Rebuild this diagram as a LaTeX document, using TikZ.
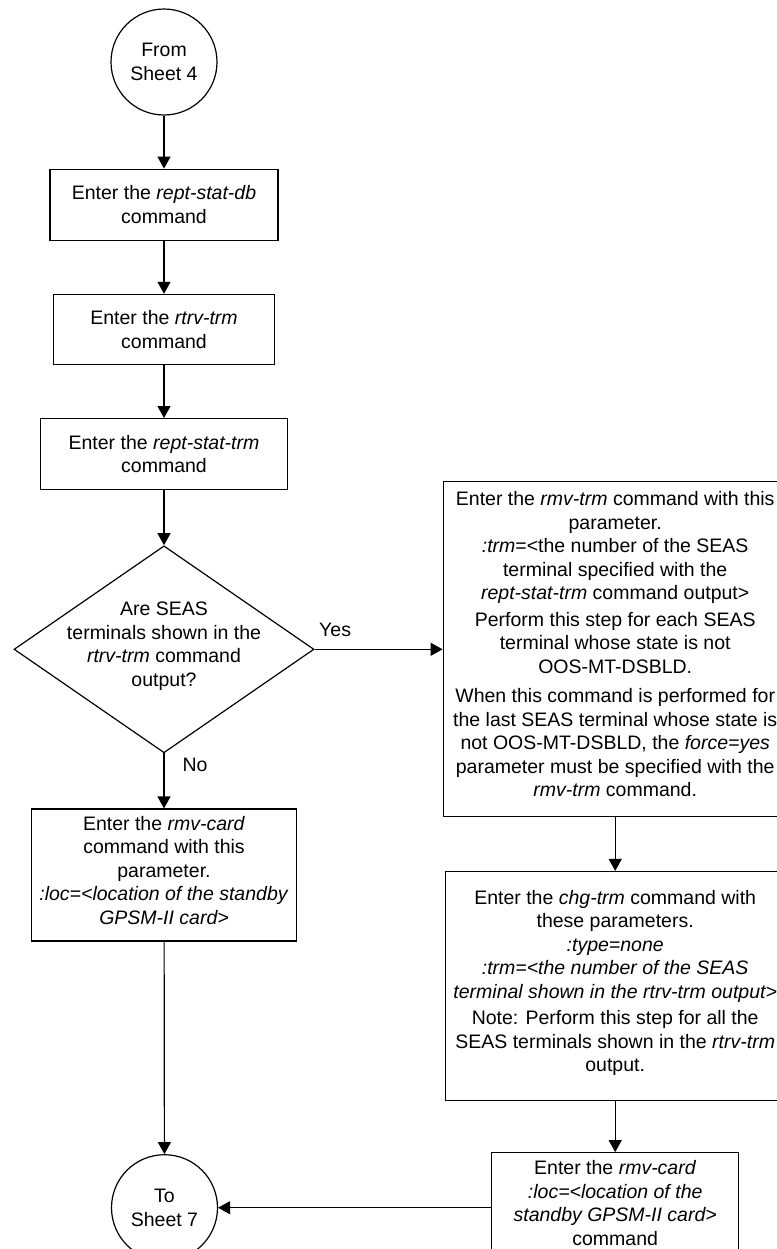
\documentclass[tikz,border=0pt]{standalone}
\usepackage{fontspec}
\setmainfont{Liberation Sans}
\usetikzlibrary{positioning, arrows.meta, shapes.geometric}
\newcommand{\chartfont}{\fontsize{9.75}{11.75}\selectfont}
\tikzset{
  stepbox/.style={
    draw,
    line width=0.6pt,
    align=center,
    inner sep=2pt,
    font=\chartfont
  },
  tallbox/.style={stepbox, text depth=5pt},
  termcirc/.style={draw, circle, line width=0.6pt, minimum size=53pt, inner sep=0pt, align=center, font=\chartfont},
  decision/.style={draw, diamond, aspect=1.45, line width=0.6pt, inner sep=-12pt, minimum width=150pt, minimum height=103.5pt, text depth=5pt, align=center, font=\chartfont},
  arr/.style={-{Triangle[length=6pt, width=6.5pt]}, line width=0.6pt},
  lbl/.style={font=\chartfont, inner sep=2pt}
}
\begin{document}
\begin{tikzpicture}

  \useasboundingbox (0,0) rectangle (388.5pt,-624.5pt);
  \clip (0,0) rectangle (388.5pt,-624.5pt);

  % Left column, top to bottom
  \node[termcirc] (from4) at (82pt,-31pt) {From\\Sheet 4};
  \node[stepbox, below=26.5pt of from4, minimum width=114pt, minimum height=35.5pt] (statdb) {%
    Enter the \textit{rept-stat-db}\\command};
  \node[stepbox, below=26.5pt of statdb, minimum width=110.5pt, minimum height=35pt] (rtrv) {%
    Enter the \textit{rtrv-trm}\\command};
  \node[stepbox, below=26.5pt of rtrv, minimum width=123.5pt, minimum height=35.5pt] (stattrm) {%
    Enter the \textit{rept-stat-trm}\\command};
  \node[decision, below=27.5pt of stattrm] (seas) {%
    Are SEAS\\terminals shown in the\\\textit{rtrv-trm} command\\output?};
  \node[tallbox, below=27.5pt of seas, minimum width=132.5pt, minimum height=66pt] (rmvcard) {%
    Enter the \textit{rmv-card}\\command with this\\parameter.\\
    \textit{:loc=<location of the standby}\\\textit{GPSM-II card>}};

  % Right column
  \node[tallbox, right=64pt of seas, minimum width=172pt, minimum height=167.5pt] (rmvtrm) {%
    Enter the \textit{rmv-trm} command with this\\
    parameter.\\
    \textit{:trm}=<the number of the SEAS\\
    terminal specified with the\\
    \textit{rept-stat-trm} command output>\\[1.5pt]
    Perform this step for each SEAS\\
    terminal whose state is not\\
    OOS-MT-DSBLD.\\[3pt]
    When this command is performed for\\
    the last SEAS terminal whose state is\\
    not OOS-MT-DSBLD, the \textit{force=yes}\\
    parameter must be specified with the\\
    \textit{rmv-trm} command.};
  \node[tallbox, below=26.75pt of rmvtrm, minimum width=170pt, minimum height=114.5pt] (chgtrm) {%
    Enter the \textit{chg-trm} command with\\
    these parameters.\\
    \textit{:type=none}\\
    \textit{:trm=<the number of the SEAS}\\
    \textit{terminal shown in the rtrv-trm output>}\\[1.5pt]
    Note: Perform this step for all the\\
    SEAS terminals shown in the \textit{rtrv-trm}\\
    output.};
  \node[tallbox, below=25.5pt of chgtrm, minimum width=123.5pt, minimum height=55pt] (rmvcard2) {%
    Enter the \textit{rmv-card}\\
    \textit{:loc=<location of the}\\
    \textit{standby GPSM-II card>}\\
    command};
  \node[termcirc, left=136.5pt of rmvcard2] (to7) {To\\Sheet 7};

  \draw[arr] (from4) -- (statdb);
  \draw[arr] (statdb) -- (rtrv);
  \draw[arr] (rtrv) -- (stattrm);
  \draw[arr] (stattrm) -- (seas);
  \draw[arr] (seas) -- node[lbl, above right, pos=0, yshift=4pt] {Yes} (rmvtrm);
  \draw[arr] (seas) -- node[lbl, right, pos=0.2, xshift=7pt] {No} (rmvcard);
  \draw[arr] (rmvcard) -- (to7);
  \draw[arr] (rmvtrm) -- (chgtrm);
  \draw[arr] (chgtrm) -- (rmvcard2);
  \draw[arr] (rmvcard2) -- (to7);

\end{tikzpicture}
\end{document}
